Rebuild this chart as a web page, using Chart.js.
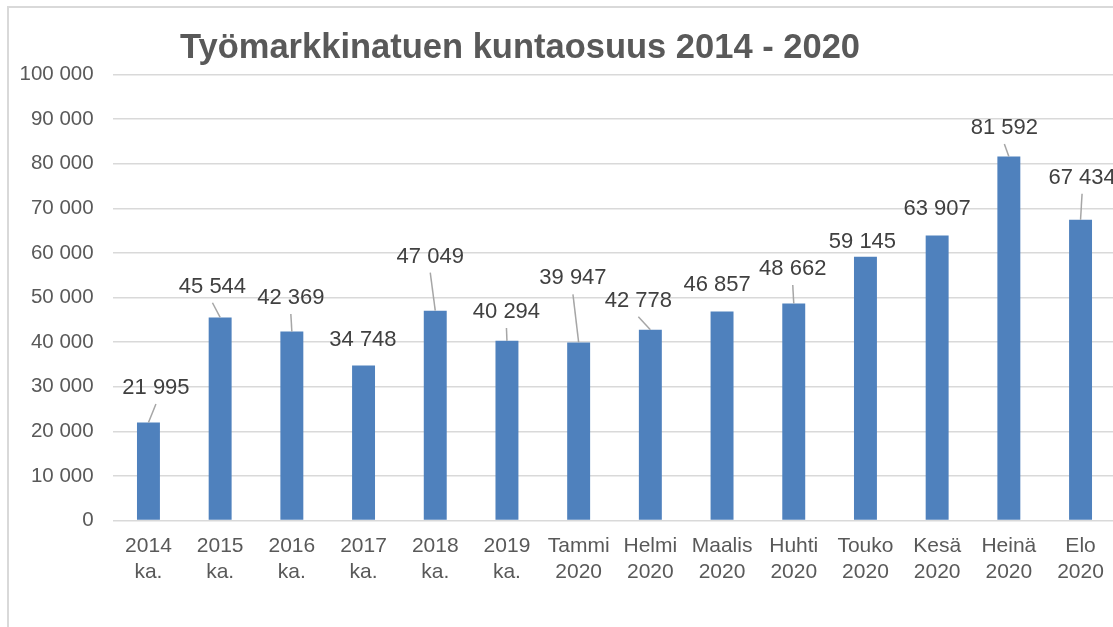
<!DOCTYPE html>
<html>
<head>
<meta charset="utf-8">
<title>Työmarkkinatuen kuntaosuus 2014 - 2020</title>
<script src="https://cdn.jsdelivr.net/npm/chart.js@4.4.1/dist/chart.umd.min.js"></script>
<style>
    body { margin: 0; background: #fff; overflow: hidden; }
    #frame {
        position: absolute; left: 7px; top: 6px; width: 1200px; height: 700px;
        border-left: 2px solid #d9d9d9; border-top: 2px solid #d9d9d9;
    }
    #wrap { position: absolute; left: 0; top: 0; width: 1120px; height: 627px; }
</style>
</head>
<body>
<div id="frame"></div>
<div id="wrap"><canvas id="kuntaosuus"></canvas></div>
<script>
const title = 'Työmarkkinatuen kuntaosuus 2014 - 2020'
const categories = [
    ['2014', 'ka.'], ['2015', 'ka.'], ['2016', 'ka.'], ['2017', 'ka.'], ['2018', 'ka.'], ['2019', 'ka.'],
    ['Tammi', '2020'], ['Helmi', '2020'], ['Maalis', '2020'], ['Huhti', '2020'],
    ['Touko', '2020'], ['Kesä', '2020'], ['Heinä', '2020'], ['Elo', '2020']
]
const values = [21995, 45544, 42369, 34748, 47049, 40294, 39947, 42778, 46857, 48662, 59145, 63907, 81592, 67434]
const yMin = 0
const yMax = 100000
const yStep = 10000

// where each value label sits relative to its bar top: [dx, dy, leader line?]
const labelNudge = [
    [7.5, -34.5, 1], [-7.7, -30.7, 1], [-1, -33.6, 1], [-0.6, -25.6, 0], [-5, -54, 1], [-0.5, -28.8, 1],
    [-5.7, -64, 1], [-12, -29, 1], [-5, -27, 0], [-1, -34.5, 1],
    [-3, -14.7, 0], [0, -27, 0], [-4.5, -28.6, 1], [1.5, -42, 1]
]

const FONT = "'Liberation Sans', Arial, sans-serif"

function fmt(v) {
    return String(v).replace(/\B(?=(\d{3})+(?!\d))/g, ' ')
}

const valueLabels = {
    id: 'valueLabels',
    afterDatasetsDraw(chart) {
        const ctx = chart.ctx
        const bars = chart.getDatasetMeta(0).data
        ctx.save()
        ctx.font = '22px ' + FONT
        ctx.textAlign = 'center'
        ctx.textBaseline = 'middle'
        for (let i = 0; i < bars.length; i++) {
            const bar = bars[i]
            const n = labelNudge[i]
            const lx = bar.x + n[0]
            const ly = bar.y + n[1]
            if (n[2]) {
                ctx.strokeStyle = '#a6a6a6'
                ctx.lineWidth = 1.5
                ctx.beginPath()
                ctx.moveTo(lx, ly + 16)
                ctx.lineTo(bar.x, bar.y)
                ctx.stroke()
            }
            ctx.fillStyle = '#404040'
            ctx.fillText(fmt(values[i]), lx, ly)
        }
        ctx.restore()
    }
}

const chartTitle = {
    id: 'chartTitle',
    afterDraw(chart) {
        const ctx = chart.ctx
        ctx.save()
        ctx.font = 'bold 34.5px ' + FONT
        ctx.fillStyle = '#595959'
        ctx.textAlign = 'center'
        ctx.textBaseline = 'alphabetic'
        ctx.fillText(title, 520, 58)
        ctx.restore()
    }
}

Chart.defaults.font.family = FONT
Chart.defaults.color = '#595959'

new Chart(document.getElementById('kuntaosuus'), {
    type: 'bar',
    data: {
        labels: categories,
        datasets: [{
            data: values,
            backgroundColor: '#4f81bd',
            barPercentage: 0.32,
            categoryPercentage: 1
        }]
    },
    options: {
        responsive: true,
        maintainAspectRatio: false,
        animation: false,
        layout: { padding: { top: 74.5, right: 3.6, bottom: 0, left: 0 } },
        plugins: {
            legend: { display: false },
            tooltip: { enabled: false }
        },
        scales: {
            x: {
                grid: { display: false, drawTicks: false },
                border: { display: false },
                ticks: { padding: 13, maxRotation: 0, autoSkip: false, font: { size: 21, lineHeight: '26px' } },
                afterFit(scale) { scale.height = 106.4 }
            },
            y: {
                min: yMin,
                max: yMax,
                grid: { color: '#d9d9d9', lineWidth: 1.5, drawTicks: false },
                border: { display: false },
                ticks: { stepSize: yStep, padding: 19, font: { size: 20.5 }, callback: v => fmt(v) },
                afterFit(scale) { scale.width = 112.6 }
            }
        }
    },
    plugins: [valueLabels, chartTitle]
})
</script>
</body>
</html>
